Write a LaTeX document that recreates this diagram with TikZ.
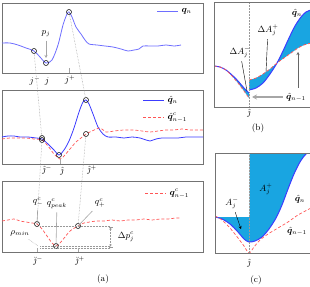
\documentclass[tikz,border=0pt]{standalone}
\usepackage{bm}
\usetikzlibrary{arrows.meta}
\definecolor{qblue}{RGB}{60,60,255}
\definecolor{qlight}{RGB}{110,110,255}
\definecolor{qred}{RGB}{255,85,85}
\definecolor{afill}{RGB}{25,165,225}

\begin{document}
\begin{tikzpicture}[x=1pt,y=-1pt,font=\small,
  frame/.style={draw=black!55, line width=0.9pt},
  qcurve/.style={draw=qblue, line width=0.8pt},
  qfaint/.style={draw=qlight, line width=0.8pt},
  qprev/.style={draw=qred, line width=0.7pt, dash pattern=on 3pt off 2pt},
  guide/.style={draw=black!40, densely dotted, line width=0.5pt},
  lead/.style={draw=black!35, line width=0.6pt},
  ptmark/.style={draw=black, line width=0.5pt},
  tip/.style={-{Stealth[length=3pt,width=3pt]}}]
\useasboundingbox (0,0) rectangle (310,286);

\draw[frame] (2,3) rectangle (203,73);
\draw[qfaint] plot[smooth] coordinates {(2,43) (10,43) (18,45) (26,48) (34,51) (40,57) (46,63) (52,60) (58,45) (63,25) (67,14) (69,12) (72,17) (76,27) (81,34) (85,40) (89,44) (97,45) (105,46) (113,47) (121,49) (128,51) (134,50) (139,49) (143,46) (150,46) (158,46) (166,45) (174,46) (181,45)};
\node[right] (lgq) at (178,11.5) {$\bm{q}_n$};
\draw[qfaint] (157,11.5) -- (lgq.west);
\coordinate (am) at (34,51);
\coordinate (aj) at (46,63);
\coordinate (ap) at (69,12);
\foreach \p in {am,aj,ap} \draw[ptmark] (\p) circle (2.5);
\node (pj) at (46,34) {$p_j$};
\draw[lead,tip] (pj) -- (46,58);
\node (jm) at (35,81) {$j^-$};
\node (j0) at (47,81) {$j$};
\node (jp) at (70,80) {$j^+$};
\draw[lead] (69,68) -- (69,73);

\draw[frame] (2,90) rectangle (203,164);
\draw[qcurve] plot[smooth] coordinates {(2,137) (8,136) (14,136) (20,137) (28,137) (36,138) (42,139) (48,144) (54,150) (59,155) (64,150) (69,141) (74,128) (79,112) (83,102) (86,100) (89,104) (93,114) (98,127) (103,134) (108,137) (116,137) (124,138) (132,137) (140,138) (146,140) (150,141) (156,139) (162,138) (170,138) (178,138) (186,137) (194,137) (203,137)};
\draw[qprev] plot[smooth] coordinates {(2,139) (10,138) (18,138) (26,138) (34,139) (42,140) (48,146) (54,154) (60,159) (64,156) (70,149) (76,142) (81,138) (86,134) (92,131) (100,128) (106,132) (114,131) (124,130) (134,130) (142,131) (150,132) (158,131) (166,130) (174,130) (182,129) (190,130) (203,130)};
\node[right] (lgqh) at (164,100.5) {$\hat{\bm{q}}_n$};
\node[right] (lgqc) at (164,117.5) {$\hat{\bm{q}}^c_{n-1}$};
\draw[qcurve] (143,100.5) -- (lgqh.west);
\draw[qprev] (143,117.5) -- (lgqc.west);
\coordinate (bm) at (42,139);
\coordinate (bj) at (59,155);
\coordinate (bp) at (86,100);
\coordinate (bc) at (86,134);
\draw[ptmark] (42,138) circle (2.5);
\draw[ptmark] (42,140) circle (2.5);
\foreach \p in {bj,bp,bc} \draw[ptmark] (\p) circle (2.5);
\node (hjm) at (47,170) {$\hat{\jmath}^-$};
\node (hj0) at (62,171) {$\hat{\jmath}$};
\node (hjp) at (92,170) {$\hat{\jmath}^+$};
\draw[lead] (60,159) -- (60,164);

\draw[frame] (2,181) rectangle (203,252);
\draw[qprev] plot[smooth] coordinates {(2,221) (8,220) (14,219) (20,221) (26,222) (32,223) (37,224) (42,229) (47,236) (52,243) (56,246) (60,243) (65,237) (70,231) (78,226) (84,223) (90,222) (96,221) (104,221) (112,220) (120,221) (128,220) (136,220) (144,219) (152,220) (160,219) (168,219) (176,218) (181,218)};
\node[right] (lgqp) at (166,193.5) {$\bm{q}^c_{n-1}$};
\draw[qprev] (145,193.5) -- (lgqp.west);
\coordinate (cm) at (37,224);
\coordinate (ck) at (56,246);
\coordinate (cp) at (78,226);
\foreach \p in {cm,ck,cp} \draw[ptmark] (\p) circle (2.5);
\draw[guide] (40,226.5) -- (110,226.5);
\draw[guide] (40,246.5) -- (110,246.5);
\draw[guide] (40,248.5) -- (110,248.5);
\draw[guide, {Bar[width=4pt]Stealth[length=2pt,width=2.5pt]}-{Stealth[length=2pt,width=2.5pt]Bar[width=4pt]}] (110.5,227) -- (110.5,247);
\node (qm) at (38,202) {$q^c_-$};
\node (qk) at (57,204) {$q^c_{peak}$};
\node (qp) at (100,203) {$q^c_+$};
\node (rho) at (20,233) {$\rho_{min}$};
\node (dp) at (126,237) {$\Delta p^c_j$};
\draw[lead] (qm) -- (cm);
\draw[lead] (qk) -- (ck);
\draw[lead] (qp) -- (cp);
\draw[guide] (rho) -- (38,246);
\node (bjm) at (38,261) {$\breve{\jmath}^-$};
\node (bjp) at (80,261) {$\breve{\jmath}^+$};
\draw[lead] (37,248) -- (37,252);
\draw[lead] (78,248) -- (78,252);
\node (capa) at (103,279) {(a)};

\draw[guide] (am) -- (bm) -- (cm);
\draw[guide] (ap) -- (bp);
\draw[guide] (bc) -- (cp);

\begin{scope}
\clip (214,2) rectangle (310,107);
\path[fill=afill] plot[smooth] coordinates {(214,66) (220,67) (226,70) (232,75) (238,81) (244,88) (249,93)} -- plot[smooth] coordinates {(249,98) (244,91) (238,83) (232,76) (226,70) (220,67) (214,66)} -- cycle;
\path[fill=afill] plot[smooth] coordinates {(249,90) (256,88) (263,83) (270,74) (277,63) (283,51) (289,38) (295,26) (301,17) (306,12) (311,10)} -- plot[smooth] coordinates {(311,43) (304,45) (298,48) (291,53) (284,58) (277,63) (270,69) (263,74) (256,78) (249,80)} -- cycle;
\draw[qcurve, line width=1pt] plot[smooth] coordinates {(214,66) (220,67) (226,70) (232,75) (238,81) (244,88) (249,93)};
\draw[qcurve, line width=1pt] plot[smooth] coordinates {(249,90) (256,88) (263,83) (270,74) (277,63) (283,51) (289,38) (295,26) (301,17) (306,12) (311,10)};
\draw[qprev] plot[smooth] coordinates {(214,66) (220,67) (226,70) (232,76) (238,83) (244,91) (249,98)};
\draw[qprev] plot[smooth] coordinates {(249,80) (256,78) (263,74) (270,69) (277,63) (284,58) (291,53) (298,48) (304,45) (311,43)};
\draw[guide] (249.5,2) -- (249.5,107);
\end{scope}
\draw[frame] (214,2) rectangle (312,107);
\node (bqh) at (297,13) {$\hat{\bm{q}}_n$};
\node (dap) at (268,30) {$\Delta A^+_j$};
\node (dam) at (240,52) {$\Delta A^-_j$};
\node (bqc) at (296,97) {$\hat{\bm{q}}_{n-1}$};
\draw[draw=black, line width=0.4pt] (dap) -- (266,72);
\draw[draw=black, line width=0.4pt] (dam) -- (247,91);
\draw[lead, line width=1.2pt, -{Stealth[length=5pt,width=5pt]}] (bqc) -- (252,97);
\draw[draw=black!60, line width=0.4pt, tip] (298,88) -- (298,52);
\node (bhj) at (249,113) {$\hat{\jmath}$};
\node (capb) at (258,128) {(b)};

\begin{scope}
\clip (215,153) rectangle (310,253);
\path[fill=afill] (249.5,217) -- (249.5,153) -- (311,153) -- plot[smooth] coordinates {(311,152) (306,154) (300,162) (294,174) (288,189) (282,205) (276,218) (269,229) (262,237) (255,241) (249,242) (244,239) (238,232) (230,224) (222,219) (215,217)} -- cycle;
\draw[qcurve, line width=1pt] plot[smooth] coordinates {(215,217) (222,219) (230,224) (238,232) (244,239) (249,242) (255,241) (262,237) (269,229) (276,218) (282,205) (288,189) (294,174) (300,162) (306,154) (311,152)};
\draw[qprev] plot[smooth] coordinates {(215,216) (222,220) (230,228) (238,238) (244,246) (249,253) (254,247) (260,240) (268,234) (278,228) (288,222) (298,215) (311,208)};
\draw[guide] (249.5,153) -- (249.5,253);
\end{scope}
\draw[frame] (215,153) rectangle (312,253);
\node (ap2) at (266,189) {$A^+_j$};
\node (am2) at (232,203) {$A^-_j$};
\draw[draw=black, line width=0.4pt, tip] (am2) -- (241,229);
\node (cqh) at (300,199) {$\hat{\bm{q}}_n$};
\node (cqc) at (297,231) {$\hat{\bm{q}}_{n-1}$};
\node (chj) at (249,263) {$\hat{\jmath}$};
\node (capc) at (256,280) {(c)};
\end{tikzpicture}
\end{document}
